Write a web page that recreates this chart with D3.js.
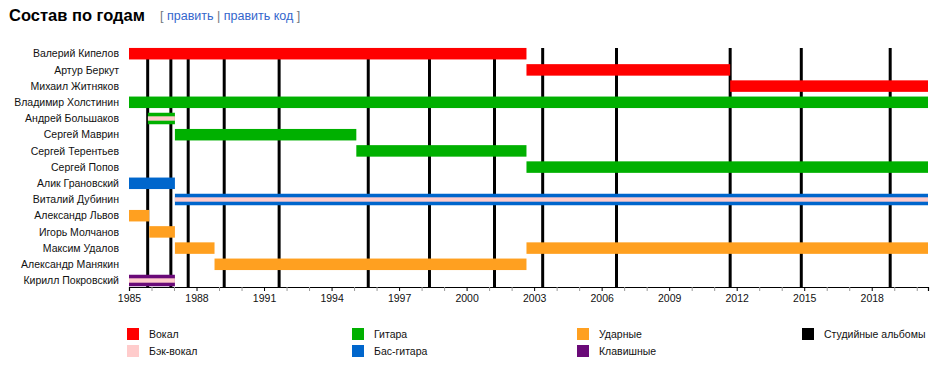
<!DOCTYPE html>
<html>
<head>
<meta charset="utf-8">
<script src="https://cdn.jsdelivr.net/npm/d3@7"></script>
<style>
  body { margin: 0; background: #fff; font-family: "Liberation Sans", Arial, sans-serif; }
</style>
</head>
<body>
<div id="chart"></div>
<script>
// members, top to bottom
const members = [
  'Валерий Кипелов', 'Артур Беркут', 'Михаил Житняков', 'Владимир Холстинин',
  'Андрей Большаков', 'Сергей Маврин', 'Сергей Терентьев', 'Сергей Попов',
  'Алик Грановский', 'Виталий Дубинин', 'Александр Львов', 'Игорь Молчанов',
  'Максим Удалов', 'Александр Манякин', 'Кирилл Покровский'
];

// spans: member, role, from, to (decimal years), backing vocals
const spanMember = ['Валерий Кипелов', 'Артур Беркут', 'Михаил Житняков', 'Владимир Холстинин',
  'Андрей Большаков', 'Сергей Маврин', 'Сергей Терентьев', 'Сергей Попов',
  'Алик Грановский', 'Виталий Дубинин', 'Александр Львов', 'Игорь Молчанов',
  'Максим Удалов', 'Максим Удалов', 'Александр Манякин', 'Кирилл Покровский'];
const spanRole = ['vocal', 'vocal', 'vocal', 'guitar', 'guitar', 'guitar', 'guitar', 'guitar',
  'bass', 'bass', 'drums', 'drums', 'drums', 'drums', 'drums', 'keys'];
const spanFrom = [1985, 2002.66, 2011.71, 1985, 1985.84, 1987.04, 1995.1, 2002.66,
  1985, 1987.04, 1985, 1985.9, 1987.04, 2002.66, 1988.8, 1985];
const spanTo = [2002.66, 2011.71, 2020.5, 2020.5, 1987.04, 1995.1, 2002.66, 2020.5,
  1987.04, 2020.5, 1985.9, 1987.04, 1988.8, 2020.5, 2002.66, 1987.04];
const spanBacking = [false, false, false, false, true, false, false, false,
  false, true, false, false, false, false, false, true];

// studio albums
const albums = [1985.83, 1986.86, 1987.63, 1989.23, 1991.67, 1995.63, 1998.35,
  2001.24, 2003.38, 2006.66, 2011.71, 2014.87, 2018.82];

const tickYears = [1985, 1988, 1991, 1994, 1997, 2000, 2003, 2006, 2009, 2012, 2015, 2018];

const legendKeys = ['vocal', 'backing', 'guitar', 'bass', 'drums', 'keys', 'album'];
const legendLabels = ['Вокал', 'Бэк-вокал', 'Гитара', 'Бас-гитара', 'Ударные', 'Клавишные', 'Студийные альбомы'];
const legendColors = ['#ff0000', '#ffcccc', '#00b000', '#0066cc', '#ffa020', '#6a0a78', '#000000'];

const spans = spanMember.map((m, i) => ({
  member: m, role: spanRole[i], from: spanFrom[i], to: spanTo[i], backing: spanBacking[i]
}));

const color = d3.scaleOrdinal().domain(legendKeys).range(legendColors);

const width = 949, height = 371;
const svg = d3.select('#chart').append('svg')
  .attr('width', width).attr('height', height)
  .style('font-family', '"Liberation Sans", Arial, sans-serif');

const x = d3.scaleLinear().domain([1985, 2020.5]).range([129, 928]);
const y = d3.scaleBand().domain(members).range([45.6, 288.6])
  .paddingInner(0.29).paddingOuter(0.145);

// title
svg.append('text')
  .attr('x', 9).attr('y', 21)
  .style('font-size', '16.5px').style('font-weight', 'bold')
  .text('Состав по годам');

const edit = svg.append('text')
  .attr('x', 160).attr('y', 20)
  .style('font-size', '12.5px');
edit.append('tspan').attr('fill', '#72777d').text('[ ');
edit.append('tspan').attr('fill', '#3366cc').text('править');
edit.append('tspan').attr('fill', '#72777d').text(' | ');
edit.append('tspan').attr('fill', '#3366cc').text('править код');
edit.append('tspan').attr('fill', '#72777d').text(' ]');

// album lines behind bars
svg.append('g')
  .selectAll('line')
  .data(albums)
  .join('line')
  .attr('x1', d => x(d)).attr('x2', d => x(d))
  .attr('y1', 48).attr('y2', 287)
  .attr('stroke', '#000').attr('stroke-width', 3);

// bars
const bars = svg.append('g');
bars.selectAll('rect.main')
  .data(spans)
  .join('rect')
  .attr('class', 'main')
  .attr('x', d => x(d.from))
  .attr('y', d => y(d.member))
  .attr('width', d => x(d.to) - x(d.from))
  .attr('height', y.bandwidth())
  .attr('fill', d => color(d.role));

bars.selectAll('rect.back')
  .data(spans.filter(d => d.backing))
  .join('rect')
  .attr('class', 'back')
  .attr('x', d => x(d.from))
  .attr('y', d => y(d.member) + y.bandwidth() / 2 - 2.2)
  .attr('width', d => x(d.to) - x(d.from))
  .attr('height', 4.4)
  .attr('fill', color('backing'));

// member labels
svg.append('g')
  .selectAll('text')
  .data(members)
  .join('text')
  .attr('x', 119)
  .attr('y', d => y(d) + y.bandwidth() / 2)
  .attr('dy', '0.35em')
  .attr('text-anchor', 'end')
  .style('font-size', '10.5px')
  .attr('fill', '#111')
  .text(d => d);

// x axis
const axis = svg.append('g')
  .attr('transform', 'translate(0,287)')
  .call(d3.axisBottom(x)
    .tickValues(d3.range(1985, 2021))
    .tickSize(4)
    .tickFormat(d => tickYears.includes(d) ? d : ''));
axis.select('.domain').attr('stroke', '#000').attr('stroke-width', 1.2);
axis.selectAll('.tick line').attr('stroke', d => tickYears.includes(d) ? '#000' : '#999');
axis.selectAll('.tick text')
  .attr('y', 8)
  .style('font-size', '10.5px')
  .style('font-family', '"Liberation Sans", Arial, sans-serif')
  .attr('fill', '#111');

// legend
const legendX = [127, 127, 352, 352, 577, 577, 802];
const legendY = [328, 345, 328, 345, 328, 345, 328];
const legend = svg.append('g')
  .selectAll('g')
  .data(legendKeys)
  .join('g')
  .attr('transform', (d, i) => `translate(${legendX[i]},${legendY[i]})`);
legend.append('rect')
  .attr('width', 12).attr('height', 12)
  .attr('fill', d => color(d));
legend.append('text')
  .attr('x', 22).attr('y', 6)
  .attr('dy', '0.35em')
  .style('font-size', '10.5px')
  .attr('fill', '#111')
  .text((d, i) => legendLabels[i]);
</script>
</body>
</html>
